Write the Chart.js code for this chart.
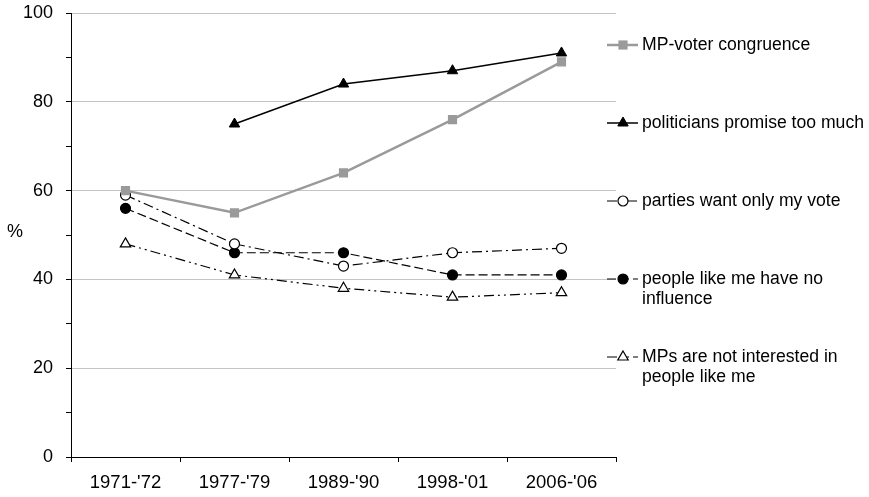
<!DOCTYPE html>
<html><head><meta charset="utf-8">
<script src="https://cdn.jsdelivr.net/npm/chart.js@4/dist/chart.umd.min.js"></script>
<style>html,body{margin:0;padding:0;background:#fff}</style>
</head><body>
<canvas id="c" width="869" height="497"></canvas>
<script>
// ---- data ----
const categories = ["1971-'72", "1977-'79", "1989-'90", "1998-'01", "2006-'06"];
const congruence = [60, 55, 64, 76, 89];
const promiseTooMuch = [null, 75, 84, 87, 91];
const onlyMyVote = [59, 48, 43, 46, 47];
const noInfluence = [56, 46, 46, 41, 41];
const notInterested = [48, 41, 38, 36, 37];
const legendTexts = [
  ["MP-voter congruence"],
  ["politicians promise too much"],
  ["parties want only my vote"],
  ["people like me have no", "influence"],
  ["MPs are not interested in", "people like me"]
];
const yAxisTitle = "%";

const FONT = '"Liberation Sans", Arial, sans-serif';
const FS_LEG = 17.6;
const FS_X = 18.5;
const FS_Y = 18;

const sideLegend = {
  id: 'sideLegend',
  afterDraw(chart) {
    const ctx = chart.ctx, area = chart.chartArea;
    ctx.save();
    ctx.fillStyle = '#000';
    ctx.font = FS_Y + 'px ' + FONT;
    ctx.textAlign = 'center';
    ctx.textBaseline = 'middle';
    ctx.fillText(yAxisTitle, 15, (area.top + area.bottom) / 2 - 3);
    chart.data.datasets.forEach((ds, i) => {
      const y = area.top + 32 + i * 78;
      ctx.strokeStyle = ds.borderColor;
      ctx.lineWidth = ds.borderWidth;
      ctx.setLineDash(ds.borderDash || []);
      ctx.beginPath(); ctx.moveTo(607, y); ctx.lineTo(638, y); ctx.stroke();
      ctx.setLineDash([]);
      ctx.fillStyle = ds.pointBackgroundColor;
      ctx.strokeStyle = ds.pointBorderColor;
      ctx.lineWidth = ds.pointBorderWidth;
      Chart.helpers.drawPoint(ctx, {pointStyle: ds.pointStyle, radius: ds.pointRadius, borderWidth: ds.pointBorderWidth, rotation: 0}, 623, y);
      ctx.fillStyle = '#000';
      ctx.font = FS_LEG + 'px ' + FONT;
      ctx.textAlign = 'left';
      ctx.textBaseline = 'middle';
      legendTexts[i].forEach((t, j) => ctx.fillText(t, 642, y + j * 20));
    });
    ctx.restore();
  }
};

new Chart(document.getElementById('c'), {
  type: 'line',
  data: {
    labels: categories,
    datasets: [
      {label: legendTexts[0].join(' '), data: congruence, borderColor: '#9a9a9a', borderWidth: 2.5,
       pointStyle: 'rect', pointRadius: 6.5, pointBackgroundColor: '#9a9a9a', pointBorderColor: '#9a9a9a', pointBorderWidth: 0},
      {label: legendTexts[1].join(' '), data: promiseTooMuch, borderColor: '#000', borderWidth: 1.5,
       pointStyle: 'triangle', pointRadius: 6, pointBackgroundColor: '#000', pointBorderColor: '#000', pointBorderWidth: 1},
      {label: legendTexts[2].join(' '), data: onlyMyVote, borderColor: '#000', borderWidth: 1.2, borderDash: [10, 4, 2, 4],
       pointStyle: 'circle', pointRadius: 5, pointBackgroundColor: '#fff', pointBorderColor: '#000', pointBorderWidth: 1.2},
      {label: legendTexts[3].join(' '), data: noInfluence, borderColor: '#000', borderWidth: 1.2, borderDash: [9, 4],
       pointStyle: 'circle', pointRadius: 5, pointBackgroundColor: '#000', pointBorderColor: '#000', pointBorderWidth: 1.2},
      {label: legendTexts[4].join(' '), data: notInterested, borderColor: '#000', borderWidth: 1.2, borderDash: [10, 4, 2, 4, 2, 4],
       pointStyle: 'triangle', pointRadius: 6, pointBackgroundColor: '#fff', pointBorderColor: '#000', pointBorderWidth: 1.2}
    ]
  },
  options: {
    responsive: false,
    devicePixelRatio: 1,
    animation: false,
    layout: {padding: {left: 0, right: 253, top: 13, bottom: 0}},
    plugins: {legend: {display: false}, tooltip: {enabled: false}},
    elements: {line: {tension: 0, fill: false}},
    scales: {
      x: {
        offset: true,
        grid: {offset: true, drawOnChartArea: false, drawTicks: true, tickLength: 5, tickColor: '#000', color: '#000'},
        border: {color: '#000', width: 1},
        ticks: {color: '#000', font: {family: FONT, size: FS_X}, padding: 10, maxRotation: 0, autoSkip: false},
        afterFit(s) { s.height = 40; s.paddingLeft = 0; s.paddingRight = 0; }
      },
      y: {
        min: 0, max: 100,
        grid: {
          color: c => (c.tick && c.tick.value % 20 === 0 && c.tick.value > 0) ? '#c4c4c4' : 'rgba(0,0,0,0)',
          tickColor: '#000', tickLength: 5, drawTicks: true, lineWidth: 1
        },
        border: {color: '#000', width: 1},
        ticks: {stepSize: 10, color: '#000', font: {family: FONT, size: FS_Y}, padding: 13,
                callback: v => (v % 20 === 0 ? v : '')},
        afterFit(s) { s.width = 71; s.paddingTop = 0; s.paddingBottom = 0; }
      }
    }
  },
  plugins: [sideLegend]
});
</script>
</body></html>
